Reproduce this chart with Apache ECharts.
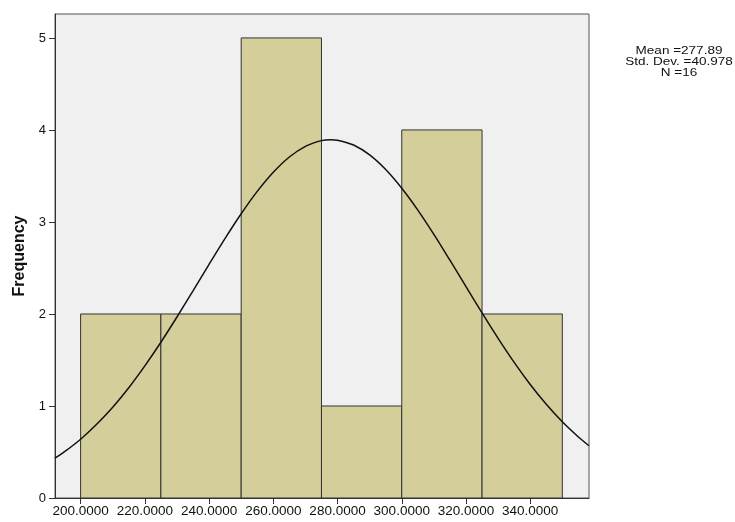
<!DOCTYPE html>
<html>
<head>
<meta charset="utf-8">
<script src="https://cdn.jsdelivr.net/npm/echarts@6/dist/echarts.min.js"></script>
<style>
html, body { margin: 0; padding: 0; background: #fff; }
#main { width: 735px; height: 522px; }
</style>
</head>
<body>
<div id="main"></div>
<script>
// histogram bins: [start, end, frequency]
var binStarts = [200, 225, 250, 275, 300, 325];
var binEnds   = [225, 250, 275, 300, 325, 350];
var counts    = [2, 2, 5, 1, 4, 2];

// normal curve
var curveX = [192, 195, 200, 205, 210, 215, 220, 225, 230, 235, 240, 245, 250, 255, 260, 265, 270, 275, 277.89,
              280, 285, 290, 295, 300, 305, 310, 315, 320, 325, 330, 335, 340, 345, 350, 355, 358.3];
var curveY = [0.433, 0.503, 0.639, 0.801, 0.987, 1.199, 1.436, 1.693, 1.967, 2.252, 2.540, 2.822, 3.089, 3.332, 3.540, 3.706, 3.822, 3.884, 3.894,
              3.889, 3.836, 3.728, 3.569, 3.366, 3.129, 2.865, 2.584, 2.297, 2.011, 1.735, 1.474, 1.234, 1.019, 0.828, 0.663, 0.568];

var xTicks = [200, 220, 240, 260, 280, 300, 320, 340];
var yTicks = [0, 1, 2, 3, 4, 5];
var statsLines = ['Mean =277.89', 'Std. Dev. =40.978', 'N =16'];

var bins = binStarts.map(function (s, i) { return [s, binEnds[i], counts[i]]; });
var curve = curveX.map(function (x, i) { return [x, curveY[i]]; });

var myChart = echarts.init(document.getElementById('main'));
var option = {
    animation: false,
    textStyle: { fontFamily: 'Arial, "Liberation Sans", sans-serif' },
    grid: {
        left: 55, right: 146, top: 14, bottom: 24,
        outerBoundsMode: 'none',
        containLabel: false,
        show: true,
        backgroundColor: '#f0f0f0',
        borderColor: '#555',
        borderWidth: 1
    },
    xAxis: {
        type: 'value',
        min: 192.03,
        max: 358.3,
        splitLine: { show: false },
        axisLine: { lineStyle: { color: '#333', width: 1 } },
        axisTick: { show: true, length: 6, customValues: xTicks, lineStyle: { color: '#333' } },
        axisLabel: {
            customValues: xTicks,
            color: '#111',
            fontSize: 13.5,
            margin: 6,
            formatter: function (v) { return v.toFixed(4); }
        }
    },
    yAxis: {
        type: 'value',
        min: 0,
        max: 5.26,
        name: 'Frequency',
        nameLocation: 'middle',
        nameGap: 27,
        nameTextStyle: { fontSize: 16, fontWeight: 'bold', color: '#111' },
        splitLine: { show: false },
        axisLine: { show: true, lineStyle: { color: '#333', width: 1 } },
        axisTick: { show: true, length: 6, customValues: yTicks, lineStyle: { color: '#333' } },
        axisLabel: { customValues: yTicks, color: '#111', fontSize: 13, margin: 9 }
    },
    series: [
        {
            type: 'custom',
            data: bins,
            encode: { x: [0, 1], y: 2 },
            renderItem: function (params, api) {
                var p0 = api.coord([api.value(0), api.value(2)]);
                var p1 = api.coord([api.value(1), 0]);
                return {
                    type: 'rect',
                    shape: { x: p0[0], y: p0[1], width: p1[0] - p0[0], height: p1[1] - p0[1] },
                    style: { fill: '#d3ce9a', stroke: '#333', lineWidth: 1 }
                };
            }
        },
        {
            type: 'line',
            data: curve,
            smooth: 0.3,
            symbol: 'none',
            lineStyle: { color: '#111', width: 1.5 }
        }
    ],
    // stats box, text is wide and tightly stacked in the original
    graphic: statsLines.map(function (t, i) {
        return {
            type: 'text',
            x: 679,
            y: 51 + i * 11,
            scaleX: 1.23,
            style: {
                text: t,
                fill: '#111',
                fontSize: 11,
                fontFamily: 'Arial, "Liberation Sans", sans-serif',
                align: 'center',
                verticalAlign: 'middle'
            }
        };
    })
};
myChart.setOption(option);
</script>
</body>
</html>
